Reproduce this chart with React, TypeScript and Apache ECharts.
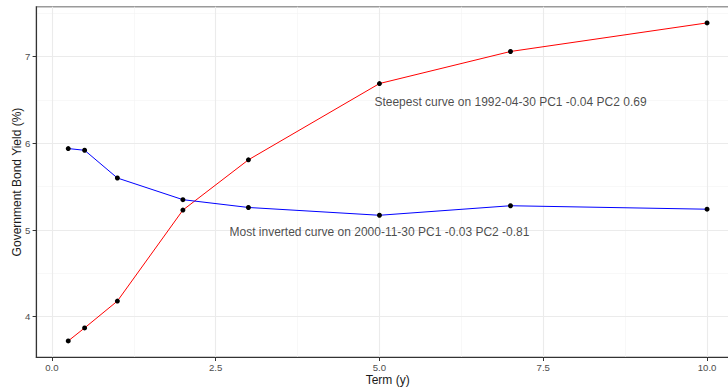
import React, { useEffect, useRef } from "react";
import * as echarts from "echarts";

const terms = [0.25, 0.5, 1, 2, 3, 5, 7, 10];
const steepestYields = [3.72, 3.87, 4.18, 5.23, 5.81, 6.69, 7.06, 7.39];
const invertedYields = [5.94, 5.92, 5.6, 5.35, 5.26, 5.17, 5.28, 5.24];

const annotationX = [7, 5];
const annotationY = [6.48, 4.98];
const annotationText = [
  "Steepest curve on 1992-04-30 PC1 -0.04 PC2 0.69",
  "Most inverted curve on 2000-11-30 PC1 -0.03 PC2 -0.81",
];

const xTicks = [0, 2.5, 5, 7.5, 10];
const xMinor = [1.25, 3.75, 6.25, 8.75];
const yTicks = [4, 5, 6, 7];
const yMinor = [3.5, 4.5, 5.5, 6.5, 7.5];

const xMin = -0.2375;
const xMax = 10.4875;
const yMin = 3.531;
const yMax = 7.577;

const FONT = "Liberation Sans, Arial, sans-serif";

export default function App() {
  const ref = useRef<HTMLDivElement>(null);
  useEffect(() => {
    if (!ref.current) return;
    const chart = echarts.init(ref.current, undefined, { renderer: "svg" });
    const gridLines = [
      ...xMinor.map((v) => ({ xAxis: v, lineStyle: { color: "#f3f3f3", width: 0.6, type: "solid" } })),
      ...yMinor.map((v) => ({ yAxis: v, lineStyle: { color: "#f3f3f3", width: 0.6, type: "solid" } })),
      ...xTicks.map((v) => ({ xAxis: v, lineStyle: { color: "#ebebeb", width: 1.1, type: "solid" } })),
      ...yTicks.map((v) => ({ yAxis: v, lineStyle: { color: "#ebebeb", width: 1.1, type: "solid" } })),
    ];
    chart.setOption({
      animation: false,
      backgroundColor: "#ffffff",
      textStyle: { fontFamily: FONT },
      grid: {
        left: 36.3,
        top: 6.7,
        width: 702.7,
        height: 350.6,
        containLabel: false,
        outerBoundsMode: "none",
        show: true,
        borderColor: "#9a9a9a",
        borderWidth: 1.5,
        backgroundColor: "transparent",
      },
      xAxis: {
        type: "value",
        min: xMin,
        max: xMax,
        name: "Term (y)",
        nameLocation: "middle",
        nameGap: 17,
        nameMoveOverlap: false,
        nameTextStyle: { color: "#1a1a1a", fontSize: 12, fontFamily: FONT },
        axisLine: { show: true, onZero: false, lineStyle: { color: "#333333", width: 1.1 } },
        axisTick: { show: true, length: 3.7, customValues: xTicks, lineStyle: { color: "#333333" } },
        axisLabel: {
          customValues: xTicks,
          formatter: (v: number) => v.toFixed(1),
          color: "#4d4d4d",
          fontSize: 9.6,
          margin: 5,
          fontFamily: FONT,
        },
        splitLine: { show: false },
      },
      yAxis: {
        type: "value",
        min: yMin,
        max: yMax,
        name: "Government Bond Yield (%)",
        nameLocation: "middle",
        nameGap: 13,
        nameMoveOverlap: false,
        nameTextStyle: { color: "#1a1a1a", fontSize: 12, fontFamily: FONT },
        axisLine: { show: true, onZero: false, lineStyle: { color: "#333333", width: 1.1 } },
        axisTick: { show: true, length: 3.7, customValues: yTicks, lineStyle: { color: "#333333" } },
        axisLabel: {
          customValues: yTicks,
          formatter: (v: number) => String(v),
          color: "#4d4d4d",
          fontSize: 9.6,
          margin: 6,
          fontFamily: FONT,
        },
        splitLine: { show: false },
      },
      series: [
        {
          type: "line",
          name: "grid",
          data: [],
          silent: true,
          markLine: {
            silent: true,
            symbol: ["none", "none"],
            label: { show: false },
            z: 0,
            animation: false,
            data: gridLines,
          },
        },
        {
          type: "line",
          name: "Steepest",
          data: terms.map((t, i) => [t, steepestYields[i]]),
          z: 3,
          lineStyle: { color: "#ff0000", width: 1 },
          symbol: "circle",
          symbolSize: 5,
          showSymbol: true,
          itemStyle: { color: "#000000", borderWidth: 0 },
        },
        {
          type: "line",
          name: "Most inverted",
          data: terms.map((t, i) => [t, invertedYields[i]]),
          z: 3,
          lineStyle: { color: "#0000ff", width: 1 },
          symbol: "circle",
          symbolSize: 5,
          showSymbol: true,
          itemStyle: { color: "#000000", borderWidth: 0 },
        },
        {
          type: "scatter",
          name: "annotations",
          silent: true,
          symbolSize: 0,
          z: 4,
          data: annotationX.map((x, i) => ({ value: [x, annotationY[i]], name: annotationText[i] })),
          label: {
            show: true,
            position: "inside",
            formatter: (p: any) => p.name,
            color: "#1a1a1a",
            fontSize: 12,
            fontFamily: FONT,
          },
        },
      ],
    });
    return () => chart.dispose();
  }, []);
  return (
    <div
      ref={ref}
      style={{ position: "fixed", left: 0, top: 0, width: 728, height: 392 }}
    />
  );
}
